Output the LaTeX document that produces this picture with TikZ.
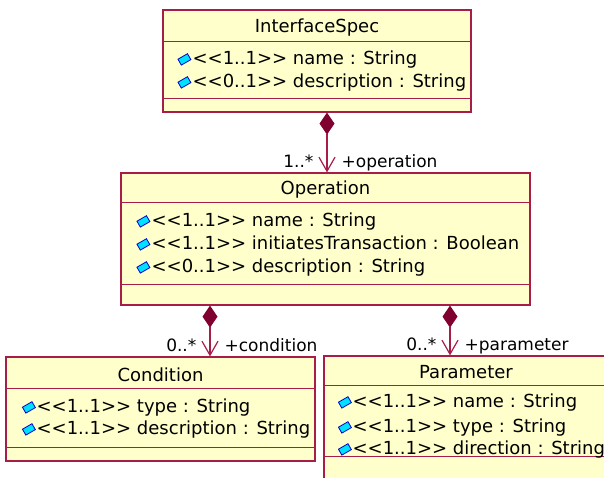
\documentclass[tikz,border=0pt]{standalone}
\usepackage{fontspec}
\setmainfont{DejaVu Sans}
\usetikzlibrary{arrows.meta, calc, positioning}

\definecolor{umlline}{RGB}{168,28,72}
\definecolor{umlfill}{RGB}{255,255,204}
\definecolor{umlcomp}{RGB}{128,0,48}
\definecolor{attrcyan}{RGB}{0,224,255}
\definecolor{attrblue}{RGB}{0,0,200}

\newcommand{\card}[1]{<{}<#1>{}>}

\tikzset{
  classbox/.style={draw=umlline, fill=umlfill, line width=1.2pt, inner sep=0pt},
  sepline/.style={umlline, line width=1.3pt},
  classname/.style={font=\fontsize{18pt}{22pt}\selectfont, inner sep=0pt},
  attrtext/.style={font=\fontsize{18pt}{22pt}\selectfont, inner sep=0pt, anchor=west,
    text height=13pt, text depth=4pt},
  multleft/.style={font=\fontsize{17pt}{20pt}\selectfont, text=black, inner sep=0pt,
    text depth=0pt, anchor=south east, xshift=-13pt, yshift=4pt},
  multright/.style={font=\fontsize{17pt}{20pt}\selectfont, text=black, inner sep=0pt,
    text depth=0pt, anchor=south west, xshift=14pt, yshift=4pt},
  composition/.style={umlline, line width=1.2pt,
    {Diamond[color=umlcomp, fill=umlcomp, length=22pt, width=15pt]}-{Straight Barb[length=14pt, width=16pt]}},
  attricon/.pic={\draw[fill=attrcyan, draw=attrblue, line width=0.8pt, rotate=30]
    (-5.5,-3.4) rectangle (5.5,3.4);}
}

\begin{document}
\begin{tikzpicture}[x=1pt, y=-1pt]

\useasboundingbox (0,0) rectangle (604,477);
\clip (0,0) rectangle (604,477);

% InterfaceSpec
\node[classbox, minimum width=308pt, minimum height=102pt] (ispec) at (317,61) {};
\draw[sepline] ($(ispec.north west)+(0,32)$) -- ($(ispec.north east)+(0,32)$);
\draw[sepline] ($(ispec.north west)+(0,89)$) -- ($(ispec.north east)+(0,89)$);
\node[classname] (ispec-name) at ($(ispec.north)+(0,18)$) {InterfaceSpec};
\foreach \dy/\attr [count=\i] in {51/{\card{1..1} name : String},
                                  74/{\card{0..1} description : String}} {
  \pic at ($(ispec.north west)+(22,\dy-1)$) {attricon};
  \node[attrtext] (ispec-a\i) at ($(ispec.north west)+(30,\dy)$) {\attr};
}

% Operation
\node[classbox, minimum width=409pt, minimum height=132pt] (oper) at (325.5,239) {};
\draw[sepline] ($(oper.north west)+(0,30)$) -- ($(oper.north east)+(0,30)$);
\draw[sepline] ($(oper.north west)+(0,112)$) -- ($(oper.north east)+(0,112)$);
\node[classname] (oper-name) at ($(oper.north)+(0,17)$) {Operation};
\foreach \dy/\attr [count=\i] in {50/{\card{1..1} name : String},
                                  73/{\card{1..1} initiatesTransaction : Boolean},
                                  96/{\card{0..1} description : String}} {
  \pic at ($(oper.north west)+(23,\dy-1)$) {attricon};
  \node[attrtext] (oper-a\i) at ($(oper.north west)+(31,\dy)$) {\attr};
}

% Condition
\node[classbox, minimum width=309pt, minimum height=104pt] (cond) at (160.5,409) {};
\draw[sepline] ($(cond.north west)+(0,32)$) -- ($(cond.north east)+(0,32)$);
\draw[sepline] ($(cond.north west)+(0,91)$) -- ($(cond.north east)+(0,91)$);
\node[classname] (cond-name) at ($(cond.north)+(0,18)$) {Condition};
\foreach \dy/\attr [count=\i] in {52/{\card{1..1} type : String},
                                  74/{\card{1..1} description : String}} {
  \pic at ($(cond.north west)+(23.5,\dy-1)$) {attricon};
  \node[attrtext] (cond-a\i) at ($(cond.north west)+(31,\dy)$) {\attr};
}

% Parameter (runs off the page)
\node[classbox, minimum width=284pt, minimum height=144pt] (param) at (466,428) {};
\draw[sepline] ($(param.north west)+(0,30)$) -- ($(param.north east)+(0,30)$);
\draw[sepline] ($(param.north west)+(0,101)$) -- ($(param.north east)+(0,101)$);
\node[classname] (param-name) at ($(param.north)+(0,17)$) {Parameter};
\foreach \dy/\attr [count=\i] in {48/{\card{1..1} name : String},
                                  73/{\card{1..1} type : String},
                                  95/{\card{1..1} direction : String}} {
  \pic at ($(param.north west)+(21.5,\dy-1)$) {attricon};
  \node[attrtext] (param-a\i) at ($(param.north west)+(29,\dy)$) {\attr};
}

% Compositions
\coordinate (opx) at (327,0);
\coordinate (condx) at (210,0);
\coordinate (paramx) at (450,0);

\draw[composition] (ispec.south -| opx) -- (oper.north -| opx)
  node[pos=1, multleft] (op-mult) {1..*}
  node[pos=1, multright] (op-role) {+operation};
\draw[composition] (oper.south -| condx) -- (cond.north -| condx)
  node[pos=1, multleft] (cond-mult) {0..*}
  node[pos=1, multright] (cond-role) {+condition};
\draw[composition] (oper.south -| paramx) -- (param.north -| paramx)
  node[pos=1, multleft] (param-mult) {0..*}
  node[pos=1, multright] (param-role) {+parameter};

\end{tikzpicture}
\end{document}
